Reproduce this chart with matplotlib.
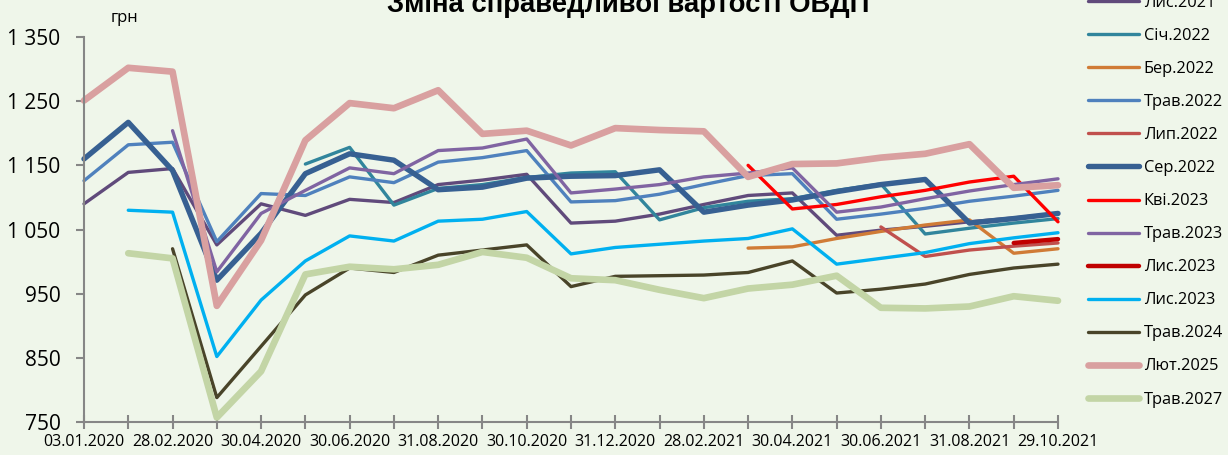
import numpy as np
import matplotlib
matplotlib.use("Agg")
import matplotlib.pyplot as plt

plt.rcParams['font.family'] = ['Open Sans', 'DejaVu Sans']

nan = np.nan

dates = ["03.01.2020", "31.01.2020", "28.02.2020", "31.03.2020", "30.04.2020", "31.05.2020",
         "30.06.2020", "31.07.2020", "31.08.2020", "30.09.2020", "30.10.2020", "30.11.2020",
         "31.12.2020", "31.01.2021", "28.02.2021", "31.03.2021", "30.04.2021", "31.05.2021",
         "30.06.2021", "31.07.2021", "31.08.2021", "30.09.2021", "29.10.2021"]

lis_2021 = [1090, 1139, 1145, 1026, 1090, 1072, 1097, 1092, 1120, 1127, 1136, 1060,
            1063, 1074, 1089, 1103, 1107, 1041, 1049, 1055, 1062, 1068, 1075]
sich_2022 = [nan, nan, nan, nan, nan, 1152, 1178, 1088, 1114, 1120, 1131, 1138,
             1140, 1065, 1084, 1094, 1098, 1111, 1121, 1043, 1052, 1060, 1067]
ber_2022 = [nan] * 15 + [1021, 1023, 1036, 1047, 1057, 1065, 1013, 1020]
trav_2022 = [1126, 1182, 1186, 1031, 1106, 1103, 1132, 1123, 1155, 1162, 1173, 1093,
             1095, 1105, 1120, 1134, 1137, 1066, 1074, 1083, 1094, 1102, 1111]
lyp_2022 = [nan] * 18 + [1054, 1008, 1018, 1024, 1029]
ser_2022 = [1160, 1217, 1142, 971, 1044, 1137, 1168, 1158, 1112, 1116, 1130, 1133,
            1134, 1143, 1077, 1088, 1096, 1109, 1120, 1128, 1060, 1067, 1075]
kvi_2023 = [nan] * 15 + [1150, 1082, 1089, 1101, 1111, 1124, 1133, 1062]
trav_2023 = [nan, nan, 1204, 984, 1075, 1111, 1146, 1137, 1173, 1177, 1191, 1107,
             1113, 1120, 1132, 1138, 1146, 1077, 1085, 1098, 1110, 1120, 1129]
lis_2023a = [nan] * 21 + [1029, 1035]
lis_2023b = [nan, 1080, 1077, 852, 940, 1001, 1040, 1032, 1063, 1066, 1078, 1012,
             1022, 1027, 1032, 1036, 1051, 996, 1005, 1014, 1028, 1037, 1045]
trav_2024 = [nan, nan, 1020, 788, 868, 948, 990, 983, 1010, 1018, 1026, 961,
             977, 978, 979, 983, 1001, 951, 957, 965, 980, 990, 996]
lyut_2025 = [1251, 1302, 1296, 931, 1033, 1189, 1247, 1239, 1267, 1199, 1204, 1181,
             1208, 1205, 1203, 1132, 1152, 1153, 1162, 1168, 1183, 1115, 1119]
trav_2027 = [nan, 1013, 1005, 757, 829, 980, 992, 988, 995, 1015, 1006, 974,
             971, 956, 943, 958, 964, 978, 928, 927, 930, 946, 939]

series = [
    ("Лис.2021", lis_2021, "#604A7B", 2.4),
    ("Січ.2022", sich_2022, "#31859C", 2.4),
    ("Бер.2022", ber_2022, "#D07B36", 2.4),
    ("Трав.2022", trav_2022, "#4F81BD", 2.4),
    ("Лип.2022", lyp_2022, "#C0504D", 2.4),
    ("Сер.2022", ser_2022, "#376092", 3.9),
    ("Кві.2023", kvi_2023, "#FF0000", 2.4),
    ("Трав.2023", trav_2023, "#8064A2", 2.4),
    ("Лис.2023", lis_2023a, "#C00000", 3.2),
    ("Лис.2023", lis_2023b, "#00B0F0", 2.4),
    ("Трав.2024", trav_2024, "#494429", 2.4),
    ("Лют.2025", lyut_2025, "#D9A0A0", 4.8),
    ("Трав.2027", trav_2027, "#C3D5A6", 4.8),
]

bg = "#EFF6EA"
axis_col = "#868686"

fig = plt.figure(figsize=(12.28, 4.55), dpi=100, facecolor=bg)
ax = fig.add_axes([84 / 1228, 1 - 422 / 455, (1058 - 84) / 1228, (422 - 37) / 455])
ax.set_facecolor(bg)

x = np.arange(len(dates))
for name, vals, col, lw in series:
    ax.plot(x, vals, color=col, lw=lw, label=name, clip_on=False,
            solid_capstyle="round", solid_joinstyle="round")

ax.set_xlim(0, len(dates) - 1)
ax.set_ylim(750, 1350)
ax.set_yticks(np.arange(750, 1351, 100))
ax.set_yticklabels([f"{v:,}".replace(",", " ") for v in range(750, 1351, 100)], fontsize=15)
ax.set_xticks(x)
ax.set_xticklabels([d if i % 2 == 0 else "" for i, d in enumerate(dates)], fontsize=11.5)

for s in ["top", "right"]:
    ax.spines[s].set_visible(False)
for s in ["left", "bottom"]:
    ax.spines[s].set_color(axis_col)
    ax.spines[s].set_linewidth(1.5)
ax.tick_params(axis="x", direction="inout", length=10, width=1.5, color=axis_col, pad=4)
ax.tick_params(axis="y", direction="out", length=6, width=1.5, color=axis_col, pad=11)

fig.text(125 / 1228, 1 - 18 / 455, "грн", ha="center", va="center", fontsize=12)
fig.text(628 / 1228, 1 - 11.5 / 455, "Зміна справедливої вартості ОВДП", ha="center", va="baseline",
         fontsize=19.8, fontweight="bold", family=["Liberation Sans", "DejaVu Sans"])

fig.legend(loc="upper left", bbox_to_anchor=(1088 / 1228, 1 + 5 / 455), frameon=False,
           fontsize=11.8, handlelength=3.1, handletextpad=0.3, labelspacing=1.04,
           borderpad=0, borderaxespad=0)

fig.savefig("out.png", dpi=100, facecolor=bg)
